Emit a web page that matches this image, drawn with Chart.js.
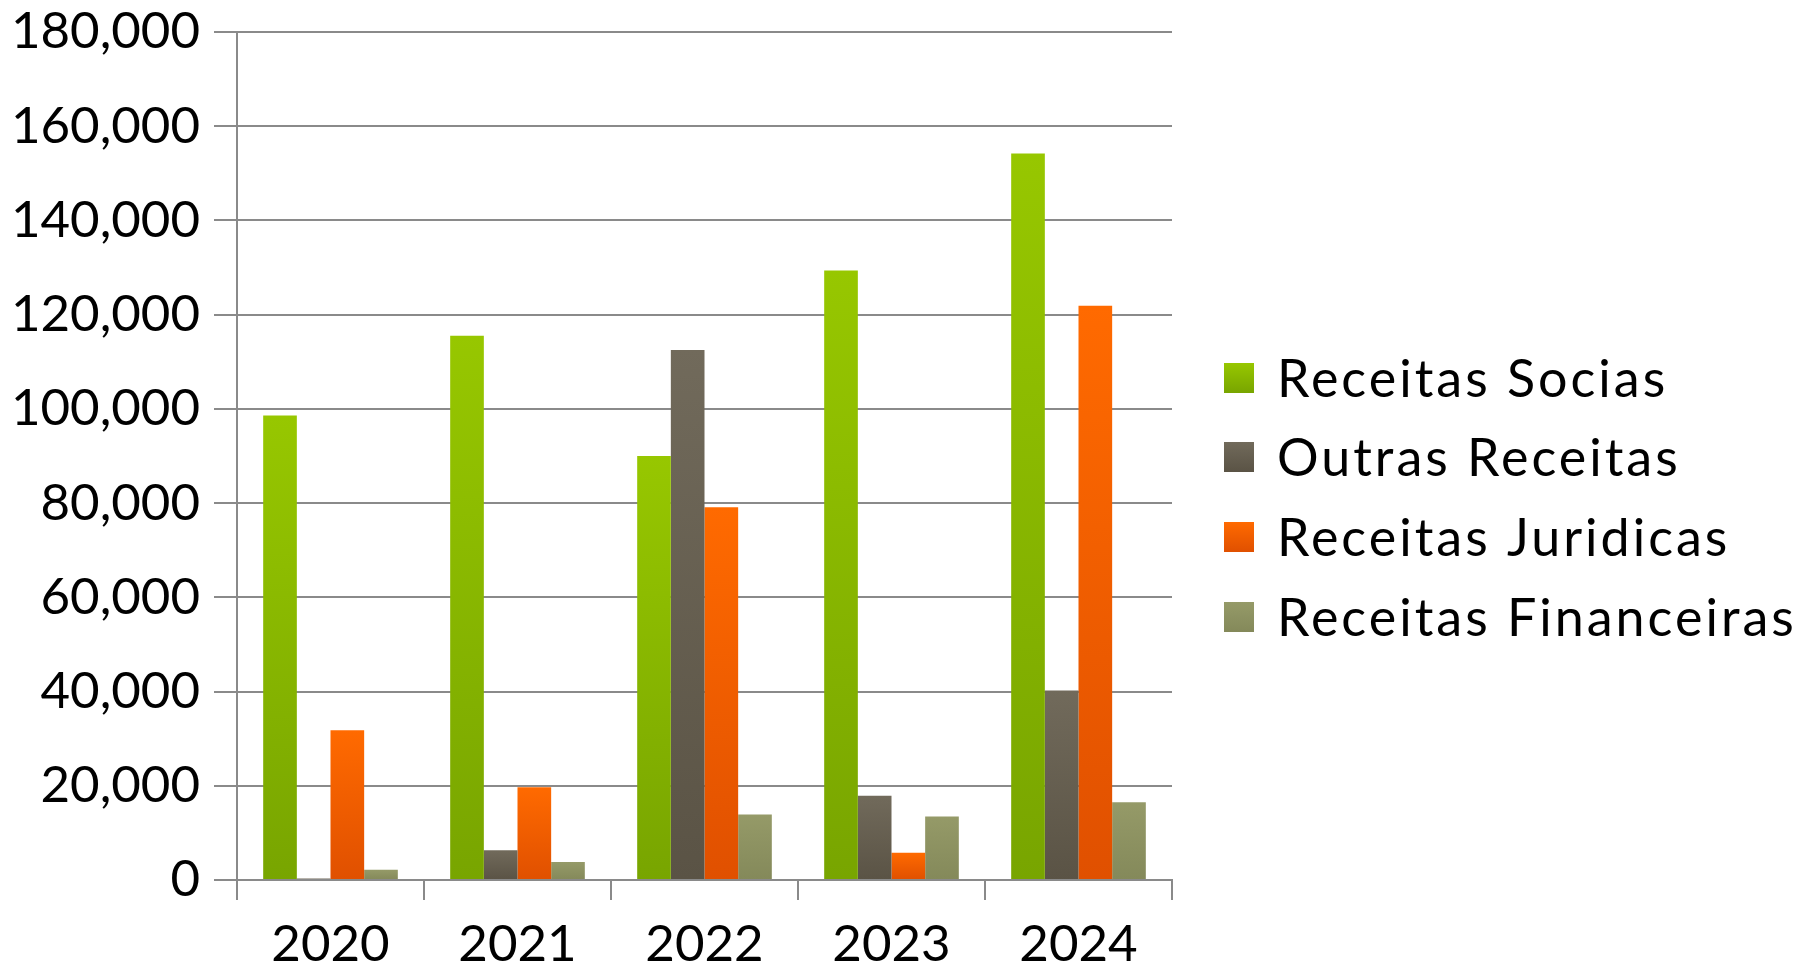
<!DOCTYPE html>
<html>
<head>
<meta charset="utf-8">
<script src="https://cdn.jsdelivr.net/npm/chart.js@4.4.1/dist/chart.umd.min.js"></script>
<style>
    body { margin: 0; background: #fff; }
    #wrap { width: 1816px; height: 971px; position: relative; }
</style>
</head>
<body>
<div id="wrap"><canvas id="receitasChart"></canvas></div>
<script>
// data
const anos = ['2020', '2021', '2022', '2023', '2024'];
const receitasSocias = [98600, 115500, 90000, 129400, 154200];
const outrasReceitas = [300, 6300, 112500, 17900, 40200];
const receitasJuridicas = [31800, 19700, 79100, 5800, 121900];
const receitasFinanceiras = [2200, 3800, 13900, 13500, 16500];
const yTicks = [0, 20000, 40000, 60000, 80000, 100000, 120000, 140000, 160000, 180000];

const fontFamily = 'Lato, "Liberation Sans", sans-serif';

// top / bottom colour of each series
const cores = [
    ['#97c700', '#78a500'],
    ['#716a5b', '#5a5345'],
    ['#ff6a00', '#e05000'],
    ['#959a68', '#84895a']
];

function barGradient(index) {
    return function (context) {
        const chart = context.chart;
        const y = chart.scales.y;
        if (!chart.chartArea || !y || context.raw === undefined) return cores[index][0];
        const top = y.getPixelForValue(context.raw);
        const bottom = y.getPixelForValue(0);
        if (!isFinite(top) || bottom - top < 1) return cores[index][0];
        const g = chart.ctx.createLinearGradient(0, top, 0, bottom);
        g.addColorStop(0, cores[index][0]);
        g.addColorStop(1, cores[index][1]);
        return g;
    };
}

// legend drawn on the right like the original
const sideLegend = {
    id: 'sideLegend',
    afterDraw(chart) {
        const ctx = chart.ctx;
        const rows = [378, 457, 537, 617];
        ctx.save();
        ctx.font = '52px ' + fontFamily;
        ctx.textBaseline = 'middle';
        ctx.fillStyle = '#000';
        ctx.letterSpacing = '3px';
        chart.data.datasets.forEach((ds, i) => {
            const y = rows[i];
            const g = ctx.createLinearGradient(0, y - 15, 0, y + 15);
            g.addColorStop(0, cores[i][0]);
            g.addColorStop(1, cores[i][1]);
            ctx.fillStyle = g;
            ctx.fillRect(1224, y - 15, 30, 30);
            ctx.fillStyle = '#000';
            ctx.fillText(ds.label, 1277, y + 2);
        });
        ctx.restore();
    }
};

const ctx = document.getElementById('receitasChart').getContext('2d');

new Chart(ctx, {
    type: 'bar',
    data: {
        labels: anos,
        datasets: [
            { label: 'Receitas Socias', data: receitasSocias, backgroundColor: barGradient(0) },
            { label: 'Outras Receitas', data: outrasReceitas, backgroundColor: barGradient(1) },
            { label: 'Receitas Juridicas', data: receitasJuridicas, backgroundColor: barGradient(2) },
            { label: 'Receitas Financeiras', data: receitasFinanceiras, backgroundColor: barGradient(3) }
        ]
    },
    options: {
        responsive: true,
        maintainAspectRatio: false,
        animation: false,
        layout: { padding: { top: 32, right: 644, left: 0, bottom: 0 } },
        datasets: {
            bar: { categoryPercentage: 0.72, barPercentage: 1.0, borderWidth: 0 }
        },
        plugins: {
            legend: { display: false },
            tooltip: { enabled: false }
        },
        scales: {
            x: {
                offset: true,
                grid: {
                    offset: true,
                    drawOnChartArea: false,
                    drawTicks: true,
                    tickLength: 20,
                    color: '#8a8a8a',
                    lineWidth: 2
                },
                border: { color: '#8a8a8a', width: 2 },
                ticks: {
                    color: '#000',
                    padding: 14,
                    font: { family: fontFamily, size: 51 }
                },
                afterFit(scale) {
                    scale.height = 91;
                    scale.paddingLeft = 0;
                    scale.paddingRight = 0;
                }
            },
            y: {
                min: 0,
                max: 180000,
                afterBuildTicks(scale) {
                    scale.ticks = yTicks.map(v => ({ value: v }));
                },
                grid: {
                    color: '#8a8a8a',
                    lineWidth: 2,
                    tickLength: 23
                },
                border: { color: '#8a8a8a', width: 2 },
                ticks: {
                    color: '#000',
                    padding: 14,
                    font: { family: fontFamily, size: 51 },
                    callback: v => v.toLocaleString('en-US')
                },
                afterFit(scale) {
                    scale.width = 237;
                    scale.paddingTop = 0;
                    scale.paddingBottom = 0;
                }
            }
        }
    },
    plugins: [sideLegend]
});
</script>
</body>
</html>
